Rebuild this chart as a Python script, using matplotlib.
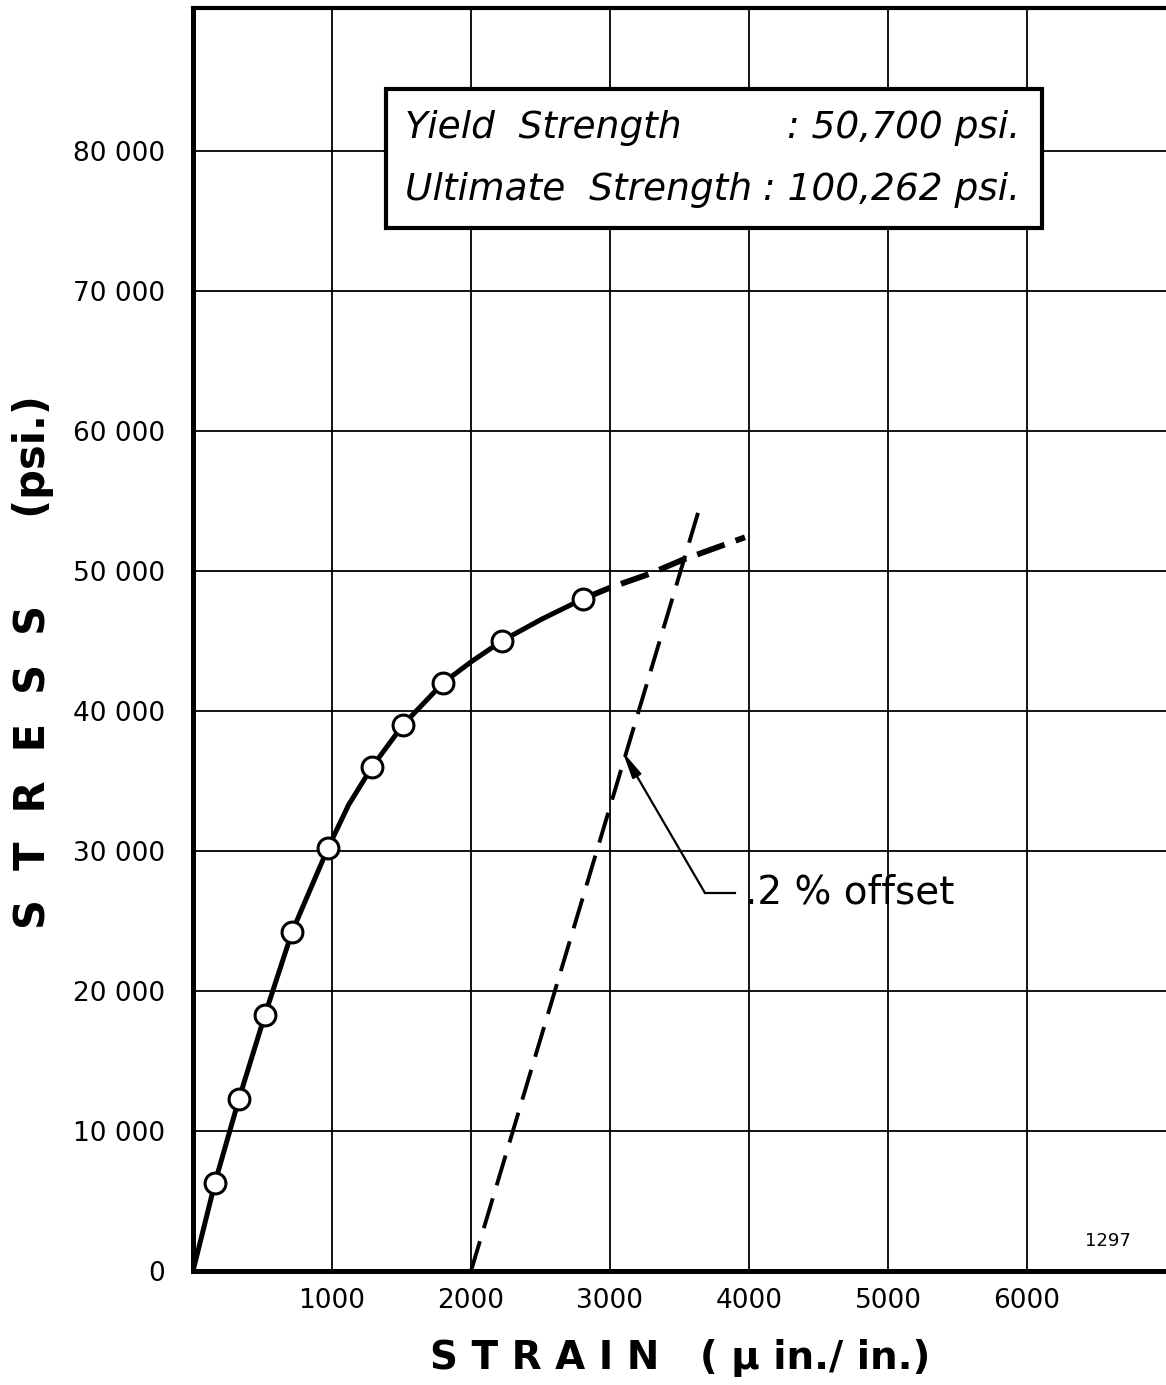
import matplotlib
matplotlib.use("Agg")
import matplotlib.pyplot as plt
from matplotlib.patches import Rectangle

strain_pts = [158, 331, 518, 712, 971, 1288, 1511, 1799, 2223, 2806]
stress_pts = [6300, 12300, 18300, 24200, 30200, 36000, 39000, 42000, 45000, 48000]

# faired curve through the points, solid part then dashed extension
curve_strain = [0, 158, 331, 518, 712, 850, 971, 1120, 1288, 1511, 1799, 2007, 2223, 2510, 2806]
curve_stress = [0, 6300, 12300, 18300, 24200, 27400, 30200, 33300, 36000, 39000, 42000, 43550, 45000, 46560, 48000]
ext_strain = [2806, 3000, 3288, 3525, 3971]
ext_stress = [48000, 48800, 49800, 50800, 52400]

# 0.2 % offset line
offset_strain = [2000, 3650]
offset_stress = [0, 54700]

x_ticks = [1000, 2000, 3000, 4000, 5000, 6000]
x_labels = ["1000", "2000", "3000", "4000", "5000", "6000"]
y_ticks = [0, 10000, 20000, 30000, 40000, 50000, 60000, 70000, 80000]
y_labels = ["0", "10 000", "20 000", "30 000", "40 000", "50 000", "60 000", "70 000", "80 000"]

box_left = ["Yield  Strength", "Ultimate  Strength"]
box_right = [": 50,700 psi.", ": 100,262 psi."]


def main():
    plt.rcParams["font.family"] = ["DejaVu Sans"]
    fig = plt.figure(figsize=(11.66, 13.85), dpi=100)
    W, H = 1166, 1385
    ax = fig.add_axes([193 / W, 1 - 1271 / H, 973 / W, (1271 - 8) / H])

    ax.set_xlim(0, 7000)
    ax.set_ylim(0, 90200)

    ax.set_xticks(x_ticks)
    ax.set_xticklabels(x_labels, fontsize=19)
    ax.set_yticks(y_ticks)
    ax.set_yticklabels(y_labels, fontsize=19)
    ax.tick_params(axis="both", length=0)
    ax.tick_params(axis="x", pad=12)
    ax.tick_params(axis="y", pad=20)

    for x in x_ticks:
        ax.axvline(x, color="black", lw=1.3, zorder=1)
    for y in y_ticks[1:]:
        ax.axhline(y, color="black", lw=1.3, zorder=1)

    ax.spines["left"].set_linewidth(3.6)
    ax.spines["bottom"].set_linewidth(3.6)
    ax.spines["top"].set_linewidth(3.0)
    ax.spines["right"].set_visible(False)

    # offset line
    ax.plot(offset_strain, offset_stress, color="black", lw=2.8,
            linestyle=(0, (8, 3.5)), zorder=3)

    # stress-strain curve
    ax.plot(curve_strain, curve_stress, color="black", lw=3.6,
            solid_capstyle="round", solid_joinstyle="round", zorder=4)
    ax.plot(ext_strain, ext_stress, color="black", lw=4.2,
            linestyle=(0, (5, 2)), zorder=4)
    ax.plot(strain_pts, stress_pts, "o", ms=15, mfc="white", mec="black",
            mew=2.2, zorder=5)

    # annotation
    ax.plot([3900, 3683], [27000, 27000], color="black", lw=1.6, zorder=4)
    ax.annotate("", xy=(3090, 37100), xytext=(3683, 27000),
                arrowprops=dict(arrowstyle="-|>,head_length=1.6,head_width=0.3",
                                color="black", lw=1.6, shrinkA=0, shrinkB=0),
                zorder=4)
    ax.text(3971, 27000, ".2 % offset", fontsize=28, va="center", ha="left",
            zorder=6)

    # results box
    ax.add_patch(Rectangle((0.198, 0.826), 0.675, 0.110, transform=ax.transAxes,
                           facecolor="white", edgecolor="black", lw=3,
                           zorder=6))
    ys = [0.905, 0.856]
    for t, y in zip(box_left, ys):
        ax.text(0.218, y, t, transform=ax.transAxes, fontsize=27,
                style="italic", ha="left", va="center", zorder=7)
    for t, y in zip(box_right, ys):
        ax.text(0.850, y, t, transform=ax.transAxes, fontsize=27,
                style="italic", ha="right", va="center", zorder=7)

    ax.text(0.94, 0.017, "1297", transform=ax.transAxes, fontsize=13,
            ha="center", va="bottom")

    fig.text(680 / W, 1 - 1358 / H, "S T R A I N   ( \u00b5 in./ in.)",
             fontsize=28, fontweight="bold", ha="center", va="center")
    fig.text(33 / W, 1 - 662 / H, "S  T  R  E  S  S      (psi.)",
             fontsize=30, fontweight="bold", ha="center", va="center",
             rotation=90)

    fig.savefig("out.png", dpi=100)
    plt.close(fig)


if __name__ == "__main__":
    main()
